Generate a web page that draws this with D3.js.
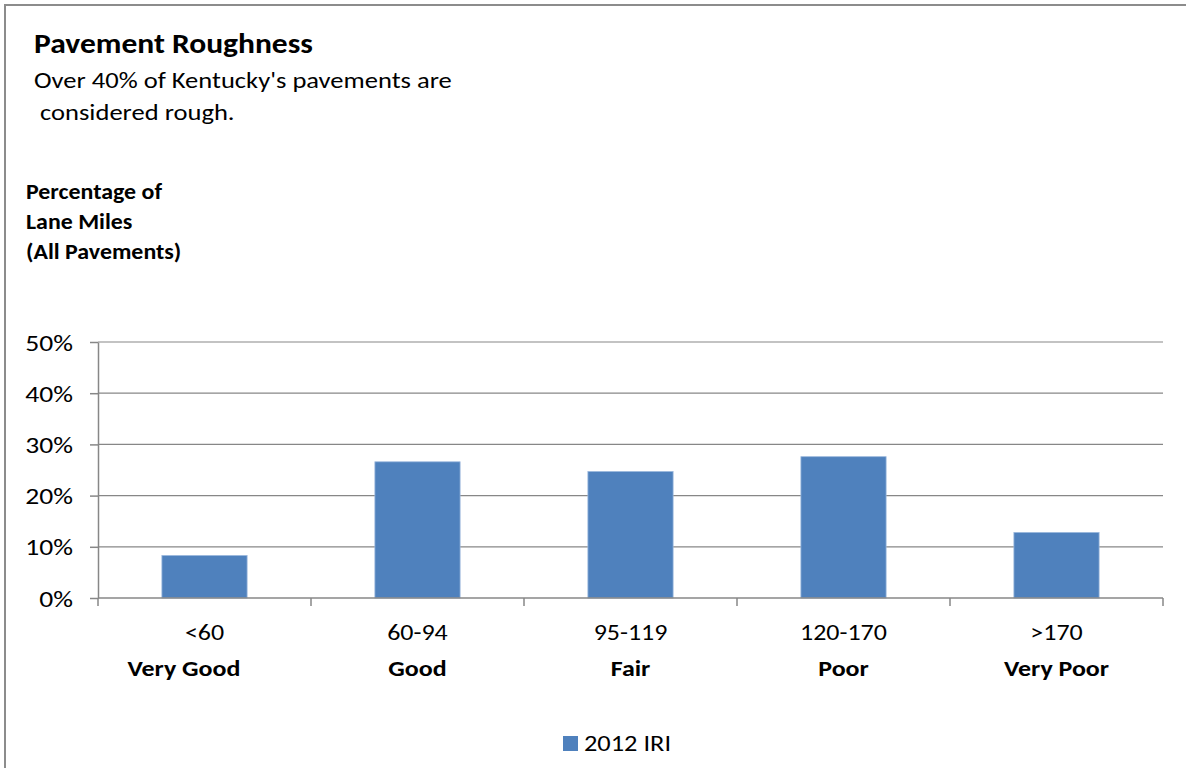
<!DOCTYPE html>
<html>
<head>
<meta charset="utf-8">
<script src="https://cdn.jsdelivr.net/npm/d3@7"></script>
<style>
  html, body { margin: 0; padding: 0; background: #fff; }
  svg { display: block; font-family: Carlito, Calibri, Lato, "Open Sans", sans-serif; }
</style>
</head>
<body>
<svg id="chart" width="1186" height="768"></svg>
<script>
const ranges = ["<60", "60-94", "95-119", "120-170", ">170"];
const ratings = ["Very Good       ", "Good", "Fair", "Poor", "Very Poor"];
const values = [8.3, 26.6, 24.7, 27.6, 12.8];
const yTicks = [0, 10, 20, 30, 40, 50];
const seriesName = "2012 IRI";
const title = "Pavement Roughness";
const subtitleLines = ["Over 40% of Kentucky's pavements are", " considered rough."];
const yTitleLines = ["Percentage of", "Lane Miles", "(All Pavements)"];

const svg = d3.select("#chart");
const barColor = "#4F81BD";
const gridColor = "#878787";

// horizontal stretch helper: positions text via transform so glyphs can be widened
function placeText(sel, xf, yf, sx) {
  sel.each(function (d, i) {
    d3.select(this).attr("x", 0).attr("y", 0)
      .attr("transform", `translate(${xf(d, i)},${yf(d, i)}) scale(${sx},1)`);
  });
}

// outer frame
svg.append("rect").attr("x", 5).attr("y", 5).attr("width", 1200).attr("height", 800)
  .attr("fill", "#fff").attr("stroke", "#8c8c8c").attr("stroke-width", 2);

const plotLeft = 98, plotRight = 1163, plotTop = 342, plotBottom = 598;
const x = d3.scaleBand().domain(ranges).range([plotLeft, plotRight]).paddingInner(0.6).paddingOuter(0.3);
const xOuter = d3.scaleBand().domain(ranges).range([plotLeft, plotRight]);
const y = d3.scaleLinear().domain([0, 50]).range([plotBottom, plotTop]);

// gridlines
svg.append("g").selectAll("line").data(yTicks.filter(d => d > 0)).join("line")
  .attr("x1", plotLeft).attr("x2", plotRight)
  .attr("y1", d => y(d)).attr("y2", d => y(d))
  .attr("stroke", gridColor).attr("stroke-width", 1.2);

// bars
svg.append("g").selectAll("rect").data(values).join("rect")
  .attr("x", (d, i) => x(ranges[i]))
  .attr("y", d => y(d))
  .attr("width", x.bandwidth())
  .attr("height", d => y(0) - y(d))
  .attr("fill", barColor)
  .attr("stroke", "#9ab7dd").attr("stroke-width", 0.8);

// y axis
const yAxis = d3.axisLeft(y).tickValues(yTicks).tickFormat(d => d + "%").tickSize(8).tickSizeOuter(0);
const gy = svg.append("g").attr("transform", `translate(${plotLeft},0)`).call(yAxis);
gy.select(".domain").attr("stroke", gridColor).attr("stroke-width", 1.5);
gy.selectAll(".tick line").attr("stroke", gridColor).attr("stroke-width", 1.5);
gy.selectAll(".tick text").attr("font-size", 23).attr("fill", "#000")
  .attr("font-family", "Carlito, Calibri, Lato, 'Open Sans', sans-serif")
  .attr("dy", "0.35em")
  .attr("x", 0).attr("transform", "translate(-25,0) scale(1.2,1)");

// x axis
const xTickPos = d3.range(ranges.length + 1).map(i => plotLeft + i * xOuter.step());
const gx = svg.append("g");
gx.append("line").attr("x1", plotLeft).attr("x2", plotRight).attr("y1", plotBottom).attr("y2", plotBottom)
  .attr("stroke", gridColor).attr("stroke-width", 1.5);
gx.selectAll("line.tk").data(xTickPos).join("line").attr("class", "tk")
  .attr("x1", d => d).attr("x2", d => d).attr("y1", plotBottom).attr("y2", plotBottom + 8)
  .attr("stroke", gridColor).attr("stroke-width", 1.5);

const catG = svg.append("g").attr("fill", "#000").attr("text-anchor", "middle");
catG.selectAll("text.r").data(ranges).join("text").attr("class", "r")
  .attr("font-size", 22).text(d => d)
  .call(placeText, d => xOuter(d) + xOuter.bandwidth() / 2, () => 640, 1.18);
catG.selectAll("text.q").data(ratings).join("text").attr("class", "q")
  .attr("font-size", 22).attr("font-weight", "bold")
  .attr("xml:space", "preserve").style("white-space", "pre").text(d => d)
  .call(placeText, (d, i) => xOuter(ranges[i]) + xOuter.bandwidth() / 2, () => 676, 1.18);

// title and subtitle
const titleText = svg.append("text").attr("font-size", 28).attr("font-weight", "bold")
  .attr("fill", "#000").text(title);
{
  const w = titleText.node().getComputedTextLength();
  titleText.call(placeText, () => 34, () => 53, 279 / w);
}
const sub = svg.append("g").selectAll("text").data(subtitleLines).join("text")
  .attr("font-size", 22).attr("fill", "#000")
  .attr("xml:space", "preserve").style("white-space", "pre").text(d => d);
{
  const w = sub.nodes()[0].getComputedTextLength();
  sub.call(placeText, () => 34, (d, i) => 88 + i * 32, 418 / w);
}

// y title
const yt = svg.append("g").selectAll("text").data(yTitleLines).join("text")
  .attr("font-size", 22).attr("font-weight", "bold")
  .attr("fill", "#000").text(d => d);
{
  const w = yt.nodes()[0].getComputedTextLength();
  yt.call(placeText, () => 26, (d, i) => 199 + i * 30, 136 / w);
}

// legend
const lg = svg.append("g").attr("transform", "translate(563,736)");
lg.append("rect").attr("width", 15).attr("height", 15).attr("fill", barColor);
lg.append("text").attr("font-size", 22).attr("fill", "#000").text(seriesName)
  .call(placeText, () => 21, () => 15, 1.2);
</script>
</body>
</html>
